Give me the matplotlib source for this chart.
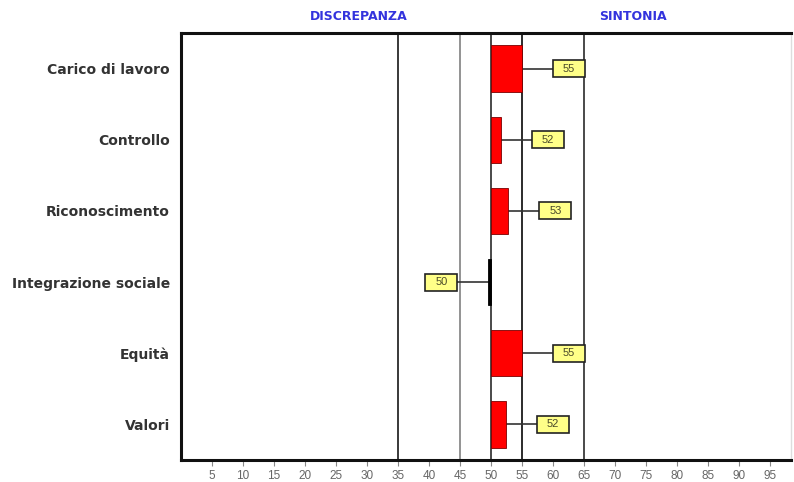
import matplotlib
matplotlib.use("Agg")
import matplotlib.pyplot as plt
from matplotlib.patches import Rectangle

categories = ["Carico di lavoro", "Controllo", "Riconoscimento",
              "Integrazione sociale", "Equità", "Valori"]
values = [55.0, 51.6, 52.8, 49.6, 55.0, 52.4]
labels = ["55", "52", "53", "50", "55", "52"]
ref_lines = [35, 45, 50, 55, 65]
ref_colors = ["#2a2a2a", "#8a8a8a", "#3a3a3a", "#1a1a1a", "#3a3a3a"]
xticks = list(range(5, 100, 5))
baseline = 50

plt.rcParams['font.family'] = ['DejaVu Sans']

fig = plt.figure(figsize=(7.94, 4.82), dpi=100)
ax = fig.add_axes([181/794, 1 - 460/482, 1 - 181/794 - 0.004, (460 - 33)/482])

ax.set_xlim(0, 98.4)
ax.set_ylim(len(categories) - 0.5, -0.5)

for x, c in zip(ref_lines, ref_colors):
    ax.axvline(x, color=c, lw=1.3, zorder=1)

box_w = 5.2
box_h = 0.24
for i, (v, lab) in enumerate(zip(values, labels)):
    pos = v >= baseline
    col = "#ff0000" if pos else "#000000"
    ax.barh(i, v - baseline, left=baseline, height=0.65, color=col,
            edgecolor="#7a0000" if pos else "black", lw=0.6, zorder=3)
    x1 = v + 5 if pos else v - 5
    xl = x1 if pos else x1 - box_w
    ax.plot([v, x1], [i, i], color="#333333", lw=1.2, zorder=2)
    ax.add_patch(Rectangle((xl, i - box_h / 2), box_w, box_h,
                           facecolor="#ffff88", edgecolor="#222222",
                           lw=1.2, zorder=4))
    ax.text(xl + box_w / 2, i, lab, ha="center", va="center", fontsize=8,
            color="#4a4a2a", zorder=5, family="Liberation Sans")

ax.set_yticks(range(len(categories)))
ax.set_yticklabels(categories, fontsize=10, fontweight="bold", color="#333333")
ax.tick_params(axis="y", length=0, pad=8)

ax.set_xticks(xticks)
ax.set_xticklabels([str(t) for t in xticks], fontsize=8.5, color="#666666",
                   family="Liberation Sans")
ax.tick_params(axis="x", length=4, color="#888888", direction="out", pad=3)

for s in ["left", "top", "bottom"]:
    ax.spines[s].set_linewidth(2.2)
    ax.spines[s].set_color("#111111")
ax.spines["right"].set_color("#dddddd")
ax.spines["right"].set_linewidth(1)

fig.text(359/794, 1 - 17/482, "DISCREPANZA", ha="center", va="center",
         fontsize=9, fontweight="bold", color="#3333dd")
fig.text(633/794, 1 - 17/482, "SINTONIA", ha="center", va="center",
         fontsize=9, fontweight="bold", color="#3333dd")

fig.savefig("out.png", dpi=100)
